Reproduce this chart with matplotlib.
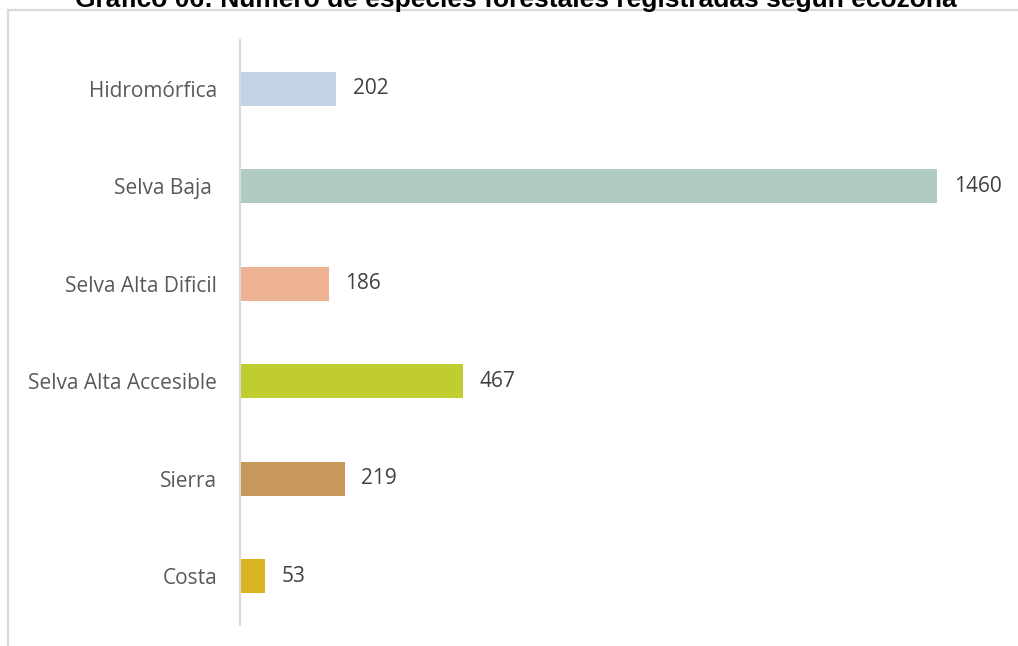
import matplotlib
matplotlib.use('Agg')
import matplotlib.pyplot as plt
from matplotlib.patches import Rectangle

# Species counts by ecozone (top to bottom as drawn)
ecozonas = ['Hidromórfica', 'Selva Baja ', 'Selva Alta Dificil', 'Selva Alta Accesible', 'Sierra', 'Costa']
especies = [202, 1460, 186, 467, 219, 53]
colores = ['#C1D3E5', '#B0CBC3', '#EDB291', '#BFCE2E', '#C6985A', '#DBB426']

W, H = 1018, 646
fig = plt.figure(figsize=(W / 100, H / 100), dpi=100)
fig.patch.set_facecolor('white')

# Outer chart frame (only top and left edges show)
fig.patches.append(Rectangle((8 / W, -0.1), 1.2, 1 - 10 / H + 0.1, transform=fig.transFigure,
                             fill=False, edgecolor='#D9D9D9', linewidth=1.6))

ax = fig.add_axes([240 / W, 21 / H, 760 / W, 585 / H])
pos = list(range(len(ecozonas)))
ax.barh(pos, especies, height=0.35, color=colores)
ax.set_ylim(len(ecozonas) - 0.5, -0.5)
ax.set_xlim(0, 760 / 0.4774)

for s in ['top', 'right', 'bottom']:
    ax.spines[s].set_visible(False)
ax.spines['left'].set_color('#D9D9D9')
ax.spines['left'].set_linewidth(1.5)
ax.set_xticks([])
ax.set_yticks(pos)
ax.set_yticklabels(ecozonas, fontsize=15, color='#595959', family='Open Sans')
ax.tick_params(axis='y', length=0, pad=16.5)

for p, v in zip(pos, especies):
    ax.annotate(str(v), (v, p), xytext=(12, 0), textcoords='offset points',
                va='center', ha='left', fontsize=15, color='#404040', family='Open Sans')

fig.text(516 / W, 1 - 7.5 / H, 'Gráfico 06: Número de especies forestales registradas según ecozona',
         ha='center', va='baseline', fontsize=19, fontweight='bold', family='Liberation Sans', color='black')

fig.savefig('out.png', dpi=100)
